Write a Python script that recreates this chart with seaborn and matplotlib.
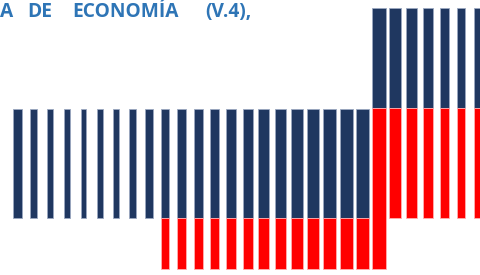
import numpy as np
import pandas as pd
import matplotlib
matplotlib.use("Agg")
import matplotlib.pyplot as plt
import seaborn as sns

# ---- data ----
columns = [str(i) for i in range(1, 30)]
navy_low = [51] * 22 + [161] * 7
navy_high = [160] * 22 + [261] * 7
red_low = [None] * 9 + [0] * 13 + [0] + [51] * 6
red_high = [None] * 9 + [51] * 13 + [161] + [161] * 6
title_words = ["A", "DE", "ECONOMÍA", "(V.4),"]

# ---- styles ----
NAVY = "#1F3760"
RED = "#FF0000"
TITLE_BLUE = "#2E75B6"
bar_widths = np.array([9, 7, 6, 6, 5, 6, 6, 7, 8,
                       8, 9, 9, 9, 10, 10, 11, 11, 12, 12, 13, 13, 13,
                       14, 12, 11, 10, 9, 8, 8]) / 16.43
title_x_px = [0.5, 27, 72, 205]

sns.set_style("white")
fig = plt.figure(figsize=(4.8, 2.75), dpi=100)
ax = fig.add_axes([0, 0, 1, 1])

df = pd.DataFrame({
    "col": columns,
    "navy_low": navy_low,
    "navy_high": navy_high,
    "red_low": red_low,
    "red_high": red_high,
    "w": bar_widths,
})
df["navy_h"] = df["navy_high"] - df["navy_low"]

sns.barplot(data=df, x="col", y="navy_h", order=columns, color=NAVY,
            saturation=1, errorbar=None, width=df["w"].to_numpy(),
            bottom=df["navy_low"].to_numpy(dtype=float),
            linewidth=0.6, edgecolor="#9aa8c0", ax=ax)

rdf = df.dropna(subset=["red_low"]).copy()
rdf["red_h"] = rdf["red_high"].astype(float) - rdf["red_low"].astype(float)
sns.barplot(data=rdf, x="col", y="red_h", order=columns, color=RED,
            saturation=1, errorbar=None, width=rdf["w"].to_numpy(),
            bottom=rdf["red_low"].to_numpy(dtype=float),
            linewidth=0.6, edgecolor="#ffb0b0", ax=ax)

ax.set_xlim(-1.065, 28.15)
ax.set_ylim(-6, 269)
ax.axis("off")

for word, xp in zip(title_words, title_x_px):
    fig.text(xp / 480, 1 - 16.8 / 275, word, ha="left", va="baseline",
             fontsize=13.8, fontweight="bold", color=TITLE_BLUE,
             family=["Open Sans", "DejaVu Sans"])

fig.savefig("out.png", dpi=100)
